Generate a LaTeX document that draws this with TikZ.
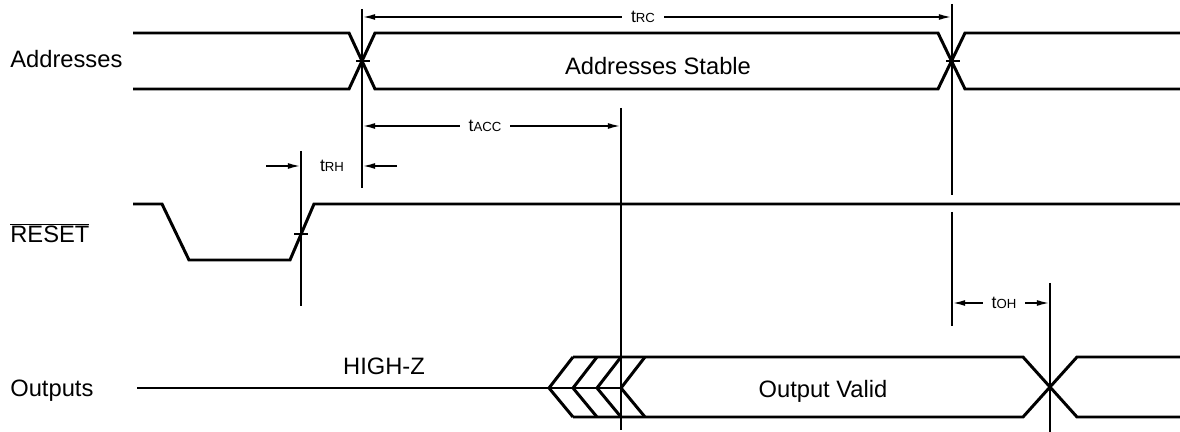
\documentclass[tikz,border=0pt]{standalone}
\usepackage{fontspec}
\setmainfont{Liberation Sans}
\usetikzlibrary{arrows.meta}
\newcommand{\tm}[2]{#1{\fontsize{7.5}{9}\selectfont #2}}

\begin{document}
\begin{tikzpicture}[x=0.02cm,y=-0.02cm,
  sig/.style={line width=1.7pt},
  guide/.style={line width=1.1pt},
  dim/.style={line width=1.1pt,-{Latex[length=7.5pt,width=3.4pt]}},
  lbl/.style={font=\fontsize{13.5}{16}\selectfont,inner sep=0pt},
  tlbl/.style={font=\fontsize{10}{12}\selectfont,inner xsep=5pt,inner ysep=0pt}]
\useasboundingbox (0,0) rectangle (1180,432);
% signal names
\node[lbl,anchor=base west] (addr) at (10,68) {Addresses};
\node[lbl,anchor=base west] (rst) at (10,243) {$\overline{\mbox{RESET}}$};
\node[lbl,anchor=base west] (outs) at (10,396) {Outputs};
% waveforms
\draw[sig] (133,33) -- (349,33) -- (375,89) -- (938,89) -- (965,33) -- (1180,33);
\draw[sig] (133,89) -- (349,89) -- (375,33) -- (938,33) -- (965,89) -- (1180,89);
\draw[sig] (133,204) -- (162,204) -- (189,260) -- (290,260) -- (314,204) -- (1180,204);
\draw[sig] (137,388) -- (621,388);
\foreach \x in {549,573,597,621}
  \draw[sig] (\x+24,357) -- (\x,388) -- (\x+24,417);
\draw[sig] (573,357) -- (1023,357) -- (1077,417) -- (1180,417);
\draw[sig] (573,417) -- (1023,417) -- (1077,357) -- (1180,357);
\draw[guide] (356,61) -- (370,61);
\draw[guide] (946,61) -- (960,61);
\draw[guide] (294,234) -- (308,234);
\node[lbl,anchor=base] (stable) at (658,75) {Addresses Stable};
\node[lbl,anchor=base] (hiz) at (384,374) {HIGH-Z};
\node[lbl,anchor=base] (valid) at (823,397) {Output Valid};
% reference lines
\coordinate (a1) at (362,9);    \coordinate (a2) at (362,188);
\coordinate (b1) at (952,4);    \coordinate (b2) at (952,195);
\coordinate (b3) at (952,212);  \coordinate (b4) at (952,326);
\coordinate (c1) at (621,108);  \coordinate (c2) at (621,430);
\coordinate (d1) at (301,151);  \coordinate (d2) at (301,306);
\coordinate (e1) at (1050,283); \coordinate (e2) at (1050,432);
\draw[guide] (a1) -- (a2);
\draw[guide] (b1) -- (b2) (b3) -- (b4);
\draw[guide] (c1) -- (c2);
\draw[guide] (d1) -- (d2);
\draw[guide] (e1) -- (e2);
% timings
\node[tlbl] (trc) at (643,17) {\tm{t}{RC}};
\draw[dim] (trc.west) -- (trc -| a1);
\draw[dim] (trc.east) -- (trc -| b1);
\node[tlbl] (tacc) at (485,126) {\tm{t}{ACC}};
\draw[dim] (tacc.west) -- (tacc -| a1);
\draw[dim] (tacc.east) -- (tacc -| c1);
\node[tlbl] (trh) at (332,166) {\tm{t}{RH}};
\coordinate (rh1) at (266,166); \coordinate (rh2) at (397,166);
\draw[dim] (rh1) -- (rh1 -| d1);
\draw[dim] (rh2) -- (rh2 -| a1);
\node[tlbl] (toh) at (1004,303) {\tm{t}{OH}};
\draw[dim] (toh.west) -- (toh -| b1);
\draw[dim] (toh.east) -- (toh -| e1);
\end{tikzpicture}
\end{document}
